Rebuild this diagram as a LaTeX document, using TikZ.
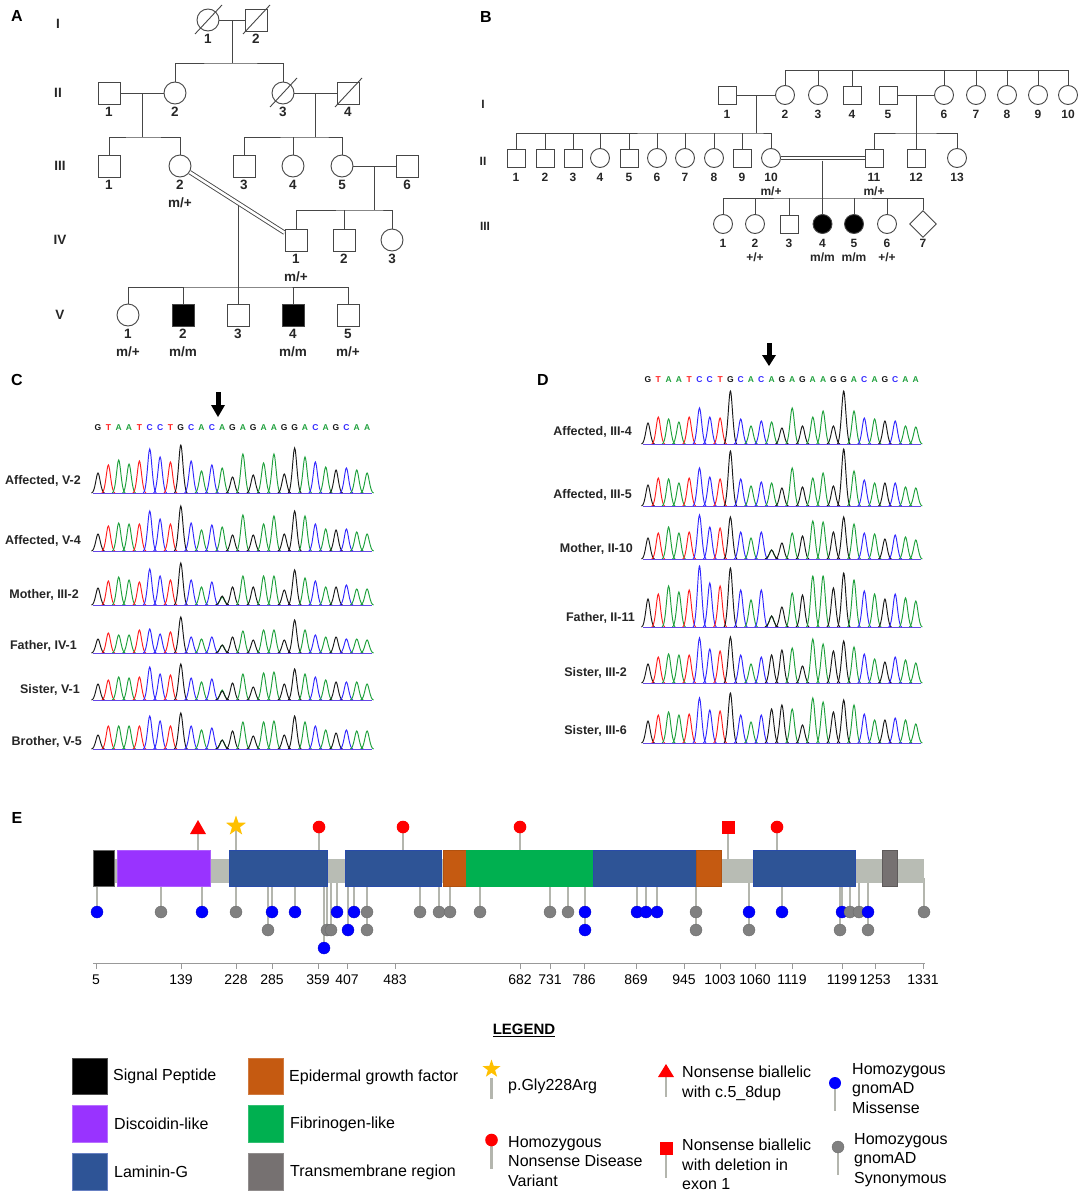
\documentclass[tikz,border=0pt]{standalone}
\usepackage{fontspec}
\setmainfont{Liberation Sans}
\usetikzlibrary{calc,shapes.geometric}
\definecolor{cK}{RGB}{25,25,25}
\definecolor{cR}{RGB}{255,30,30}
\definecolor{cG}{RGB}{30,160,60}
\definecolor{cB}{RGB}{50,40,255}
\definecolor{pedc}{RGB}{70,70,70}
\definecolor{discP}{RGB}{153,51,255}
\definecolor{lamG}{RGB}{46,84,150}
\definecolor{lamGb}{RGB}{40,75,170}
\definecolor{egfO}{RGB}{197,90,17}
\definecolor{fibG}{RGB}{0,176,80}
\definecolor{tmG}{RGB}{118,113,113}
\definecolor{bbG}{RGB}{184,188,180}
\definecolor{stickG}{RGB}{180,182,174}
\definecolor{synG}{RGB}{128,128,128}
\definecolor{misB}{RGB}{0,0,255}
\definecolor{nsR}{RGB}{255,0,0}
\definecolor{starY}{RGB}{255,192,0}
\definecolor{blineC}{RGB}{100,70,230}
\newcommand\seqc[1]{\ifcase#1\or cK\or cR\or cG\or cG\or cR\or cB\or cB\or cR\or cK\or cB\or cG\or cB\or cG\or cK\or cG\or cK\or cG\or cG\or cK\or cK\or cG\or cB\or cG\or cK\or cB\or cG\or cG\fi}
\newcommand\peak[5]{\draw[trace,color=#4] ({#1-#5},#2) .. controls ({#1-0.45*#5},#2) and ({#1-0.25*#5},{#2-#3}) .. ({#1},{#2-#3}) .. controls ({#1+0.25*#5},{#2-#3}) and ({#1+0.45*#5},#2) .. ({#1+#5},#2);}
\newcommand\chrom[4]{%
  \foreach \hh [count=\ii] in {#4} {%
    \pgfmathsetmacro\xc{#1+(\ii-1)*#2}%
    \edef\cc{\seqc{\ii}}%
    \peak{\xc}{#3}{\hh}{\cc}{6.5}%
  }}
\newcommand\bline[3]{\draw[baseln] ({#1-5},#3) -- ({#1+26*#2+5},#3);}
\newcommand\seqrow[4]{%
  \foreach \L [count=\ii] in {G,T,A,A,T,C,C,T,G,C,A,C,A,G,A,G,A,A,G,G,A,C,A,G,C,A,A} {%
    \pgfmathsetmacro\xc{#1+(\ii-1)*#2}%
    \edef\cc{\seqc{\ii}}%
    \node[seqt, text=\cc, name=#4\ii] at (\xc,#3) {\L};
  }}
\newcommand\pA[6]{\node[#1] (#2) at (#3,#4) {};
  \node[numA] (#2n) at (#3,{#4+19}) {#5};
  \node[numA] (#2g) at (#3,{#4+37}) {#6};}
\newcommand\pB[6]{\node[#1] (#2) at (#3,#4) {};
  \node[numB] (#2n) at (#3,{#4+19}) {#5};
  \node[numB] (#2g) at (#3,{#4+33}) {#6};}
\newcommand\dec[1]{\draw[pl] ($(#1)+(-13,14)$) -- ($(#1)+(14,-15)$);}
\tikzset{
  pl/.style={draw=pedc, line width=0.9pt},
  sqA/.style={pl, rectangle, minimum size=22pt, inner sep=0pt, fill=white},
  ciA/.style={pl, circle, minimum size=22pt, inner sep=0pt, fill=white},
  sqB/.style={pl, rectangle, minimum size=18pt, inner sep=0pt, fill=white},
  ciB/.style={pl, circle, minimum size=19pt, inner sep=0pt, fill=white},
  dmB/.style={pl, diamond, minimum width=27pt, minimum height=27pt, inner sep=0pt, fill=white},
  aff/.style={fill=black},
  numA/.style={font=\fontsize{13.5}{16}\bfseries\selectfont, inner sep=0pt, text=black!85},
  numB/.style={font=\fontsize{12}{14}\bfseries\selectfont, inner sep=0pt, text=black!85},
  panel/.style={font=\fontsize{16}{18}\bfseries\selectfont, inner sep=0pt},
  rowlbl/.style={font=\fontsize{12.5}{14}\bfseries\selectfont, inner sep=0pt, anchor=east, text=black!85},
  trace/.style={line width=0.95pt},
  baseln/.style={draw=blineC, line width=0.9pt},
  seqt/.style={font=\fontsize{8.5}{9}\bfseries\selectfont, inner sep=0pt},
  stick/.style={draw=stickG, line width=2.2pt},
  tickl/.style={font=\fontsize{14}{16}\selectfont, inner sep=0pt},
  legt/.style={font=\fontsize{16}{18}\selectfont, inner sep=0pt, anchor=west},
  legr/.style={font=\fontsize{16}{19.5}\selectfont, inner sep=0pt, anchor=north west, align=left},
}
\begin{document}
\begin{tikzpicture}[x=1pt,y=-1pt]
\useasboundingbox (0,0) rectangle (1084,1194);
% ================= Panel A =================
\node[panel] (pA) at (17,16) {A};
\node[numA] (gA1) at (58,24) {I};
\node[numA] (gA2) at (58,93) {II};
\node[numA] (gA3) at (60,166) {III};
\node[numA] (gA4) at (60,240) {IV};
\node[numA] (gA5) at (60,315) {V};
\pA{ciA}{A1x1}{208}{20}{1}{}
\pA{sqA}{A1x2}{256}{20}{2}{}
\dec{A1x1}\dec{A1x2}
\pA{sqA}{A2x1}{109}{93}{1}{}
\pA{ciA}{A2x2}{175}{93}{2}{}
\pA{ciA}{A2x3}{283}{93}{3}{}
\pA{sqA}{A2x4}{348}{93}{4}{}
\dec{A2x3}\dec{A2x4}
\pA{sqA}{A3x1}{109}{166}{1}{}
\pA{ciA}{A3x2}{180}{166}{2}{m/+}
\pA{sqA}{A3x3}{244}{166}{3}{}
\pA{ciA}{A3x4}{293}{166}{4}{}
\pA{ciA}{A3x5}{342}{166}{5}{}
\pA{sqA}{A3x6}{407}{166}{6}{}
\pA{sqA}{A4x1}{296}{240}{1}{m/+}
\pA{sqA}{A4x2}{344}{240}{2}{}
\pA{ciA}{A4x3}{392}{240}{3}{}
\pA{ciA}{A5x1}{128}{315}{1}{m/+}
\pA{sqA,aff}{A5x2}{183}{315}{2}{m/m}
\pA{sqA}{A5x3}{238}{315}{3}{}
\pA{sqA,aff}{A5x4}{293}{315}{4}{m/m}
\pA{sqA}{A5x5}{348}{315}{5}{m/+}
% connections A
\draw[pl] (A1x1) -- (A1x2);
\coordinate (mA1) at ($(A1x1)!0.5!(A1x2)$);
\coordinate (sA1) at ($(mA1)+(0,43)$);
\draw[pl] (mA1) -- (sA1);
\draw[pl] (A2x2.north) |- (sA1) -| (A2x3.north);
\draw[pl] (A2x1) -- (A2x2);
\coordinate (mA2) at ($(A2x1)!0.5!(A2x2)$);
\coordinate (sA2) at ($(mA2)+(0,44)$);
\draw[pl] (mA2) -- (sA2);
\draw[pl] (A3x1.north) |- (sA2) -| (A3x2.north);
\draw[pl] (A2x3) -- (A2x4);
\coordinate (mA3) at ($(A2x3)!0.5!(A2x4)$);
\coordinate (sA3) at ($(mA3)+(0,44)$);
\draw[pl] (mA3) -- (sA3);
\draw[pl] (A3x3.north) |- (sA3) -| (A3x5.north);
\draw[pl] (A3x4.north) -- (A3x4.north |- sA3);
\draw[pl] (A3x5) -- (A3x6);
\coordinate (mA4) at ($(A3x5)!0.5!(A3x6)$);
\coordinate (sA4) at ($(mA4)+(0,44)$);
\draw[pl] (mA4) -- (sA4);
\draw[pl] (A4x1.north) |- (sA4) -| (A4x3.north);
\draw[pl] (A4x2.north) -- (A4x2.north |- sA4);
\draw[pl, double=white, double distance=2.6pt] (A3x2) -- (A4x1);
\coordinate (mA5) at ($(A3x2)!0.5!(A4x1)$);
\coordinate (sA5) at (238,287);
\draw[pl] ($(mA5)+(0,2.5)$) -- (A5x3.north);
\draw[pl] (A5x1.north) |- (sA5) -| (A5x5.north);
\draw[pl] (A5x2.north) -- (A5x2.north |- sA5);
\draw[pl] (A5x4.north) -- (A5x4.north |- sA5);
% ================= Panel B =================
\node[panel] (pB) at (486,17) {B};
\node[numB] (gB1) at (483,104) {I};
\node[numB] (gB2) at (483,161) {II};
\node[numB] (gB3) at (485,226) {III};
\pB{sqB}{B1x1}{727}{95}{1}{}
\pB{ciB}{B1x2}{785}{95}{2}{}
\pB{ciB}{B1x3}{818}{95}{3}{}
\pB{sqB}{B1x4}{852}{95}{4}{}
\pB{sqB}{B1x5}{888}{95}{5}{}
\pB{ciB}{B1x6}{944}{95}{6}{}
\pB{ciB}{B1x7}{976}{95}{7}{}
\pB{ciB}{B1x8}{1007}{95}{8}{}
\pB{ciB}{B1x9}{1038}{95}{9}{}
\pB{ciB}{B1x10}{1068}{95}{10}{}
\pB{sqB}{B2x1}{516}{158}{1}{}
\pB{sqB}{B2x2}{545}{158}{2}{}
\pB{sqB}{B2x3}{573}{158}{3}{}
\pB{ciB}{B2x4}{600}{158}{4}{}
\pB{sqB}{B2x5}{629}{158}{5}{}
\pB{ciB}{B2x6}{657}{158}{6}{}
\pB{ciB}{B2x7}{685}{158}{7}{}
\pB{ciB}{B2x8}{714}{158}{8}{}
\pB{sqB}{B2x9}{742}{158}{9}{}
\pB{ciB}{B2x10}{771}{158}{10}{m/+}
\pB{sqB}{B2x11}{874}{158}{11}{m/+}
\pB{sqB}{B2x12}{916}{158}{12}{}
\pB{ciB}{B2x13}{957}{158}{13}{}
\pB{ciB}{B3x1}{723}{224}{1}{}
\pB{ciB}{B3x2}{755}{224}{2}{+/+}
\pB{sqB}{B3x3}{789}{224}{3}{}
\pB{ciB,aff}{B3x4}{822.5}{224}{4}{m/m}
\pB{ciB,aff}{B3x5}{854}{224}{5}{m/m}
\pB{ciB}{B3x6}{887}{224}{6}{+/+}
\pB{dmB}{B3x7}{923}{224}{7}{}
% connections B
\coordinate (tB) at (785,70);
\draw[pl] (B1x2.north) -- (B1x2.north |- tB) -| (B1x10.north);
\foreach \k in {3,4,6,7,8,9} \draw[pl] (B1x\k.north) -- (B1x\k.north |- tB);
\draw[pl] (B1x1) -- (B1x2);
\coordinate (mB1) at ($(B1x1)!0.5!(B1x2)$);
\coordinate (sB1) at ($(mB1)+(0,38)$);
\draw[pl] (mB1) -- (sB1);
\draw[pl] (B2x1.north) |- (sB1) -| (B2x10.north);
\foreach \k in {2,...,9} \draw[pl] (B2x\k.north) -- (B2x\k.north |- sB1);
\draw[pl] (B1x5) -- (B1x6);
\coordinate (mB2) at ($(B1x5)!0.5!(B1x6)$);
\coordinate (sB2) at ($(mB2)+(0,38)$);
\draw[pl] (mB2) -- (B2x12.north);
\draw[pl] (B2x11.north) |- (sB2) -| (B2x13.north);
\draw[pl, double=white, double distance=2.6pt] (B2x10) -- (B2x11);
\coordinate (mB3) at ($(B2x10)!0.5!(B2x11)$);
\coordinate (sB3) at ($(mB3)+(0,40)$);
\draw[pl] ($(mB3)+(0,2.5)$) -- (B3x4.north);
\draw[pl] (B3x1.north) |- (sB3) -| (B3x7.north);
\foreach \k in {2,3,5,6} \draw[pl] (B3x\k.north) -- (B3x\k.north |- sB3);
% ================= Panel C =================
\node[panel] (pC) at (17,380) {C};
\fill[black] (215.5,392) rectangle (220.5,406);
\fill[black] (211,405) -- (225,405) -- (218,417) -- cycle;
\seqrow{98}{10.35}{428}{sC}
\node[rowlbl] (lC1) at (81,481) {Affected, V-2};
\node[rowlbl] (lC2) at (81,541) {Affected, V-4};
\node[rowlbl] (lC3) at (79,595) {Mother, III-2};
\node[rowlbl] (lC4) at (77,646) {Father, IV-1};
\node[rowlbl] (lC5) at (80,690) {Sister, V-1};
\node[rowlbl] (lC6) at (82,742) {Brother, V-5};
\chrom{98}{10.35}{493}{20,28,33,29,32,44,36,31,48,32,22,28,25,16,39,18,30,39,19,45,36,31,26,23,25,23,20}
\bline{98}{10.35}{493}
\chrom{98}{10.35}{551}{17,25,28,27,27,40,32,27,45,28,21,26,24,16,36,16,27,35,17,40,35,27,22,21,22,19,17}
\bline{98}{10.35}{551}
\chrom{98}{10.35}{605}{17,24,28,25,23,36,29,25,42,25,18,23,8,18,29,18,29,29,15,35,27,24,18,18,20,16,16}
\peak{222.2}{605}{9}{cK}{6.5}
\bline{98}{10.35}{605}
\chrom{98}{10.35}{653}{14,20,18,18,23,24,19,21,36,16,14,16,8,16,22,13,23,23,13,33,23,18,16,16,14,14,13}
\peak{222.2}{653}{8}{cK}{6.5}
\bline{98}{10.35}{653}
\chrom{98}{10.35}{700}{16,20,23,22,23,33,26,25,36,22,18,21,10,17,26,13,27,28,16,31,26,23,20,18,18,18,16}
\peak{222.2}{700}{9}{cK}{6.5}
\bline{98}{10.35}{700}
\chrom{98}{10.35}{749}{14,23,23,23,23,33,28,23,36,23,19,21,9,18,27,13,27,28,14,33,27,23,19,16,19,18,18}
\peak{222.2}{749}{9}{cK}{6.5}
\bline{98}{10.35}{749}
% ================= Panel D =================
\node[panel] (pD) at (543,380) {D};
\fill[black] (766.5,343) rectangle (771.5,356);
\fill[black] (762,355) -- (776,355) -- (769,366) -- cycle;
\seqrow{648}{10.3}{380}{sD}
\node[rowlbl] (lD1) at (632,432) {Affected, III-4};
\node[rowlbl] (lD2) at (632,495) {Affected, III-5};
\node[rowlbl] (lD3) at (633,549) {Mother, II-10};
\node[rowlbl] (lD4) at (635,618) {Father, II-11};
\node[rowlbl] (lD5) at (627,673) {Sister, III-2};
\node[rowlbl] (lD6) at (627,731) {Sister, III-6};
\chrom{648}{10.3}{444}{21,27,25,22,27,36,27,26,53,25,18,23,22,16,36,18,27,33,18,53,33,26,25,23,23,18,17}
\bline{648}{10.3}{444}
\chrom{648}{10.3}{506}{21,28,27,23,28,38,29,27,55,27,20,24,23,18,38,19,28,33,20,57,35,26,23,23,23,19,18}
\bline{648}{10.3}{506}
\chrom{648}{10.3}{559}{21,26,32,26,27,44,32,31,42,27,21,27,9,16,26,23,38,37,27,42,35,26,25,20,24,22,19}
\peak{771.6}{559}{9}{cK}{6.5}
\bline{648}{10.3}{559}
\chrom{648}{10.3}{627}{28,33,41,35,37,61,44,41,59,37,27,37,11,20,34,32,51,51,39,54,47,36,33,28,33,29,26}
\peak{771.6}{627}{11}{cK}{6.5}
\bline{648}{10.3}{627}
\chrom{648}{10.3}{683}{19,26,29,28,28,45,34,32,46,28,19,26,0,33,35,17,44,39,32,42,36,29,24,21,26,23,20}
\peak{771.6}{683}{28}{cK}{6.5}
\bline{648}{10.3}{683}
\chrom{648}{10.3}{743}{22,28,31,28,29,45,33,32,50,28,21,28,0,38,34,18,45,41,31,43,38,29,23,23,25,23,19}
\peak{771.6}{743}{34}{cK}{6.5}
\bline{648}{10.3}{743}
% ================= Panel E =================
\node[panel] (pE) at (17,818) {E};
% top sticks
\foreach \x in {198,236,319,403,520,777} \draw[stick] (\x,856) -- (\x,830);
\draw[stick] (728,864) -- (728,830);
% bottom sticks
\foreach \x/\y in {97/912,161/912,202/912,236/912,272/912,295/912,337/912,354/912,367/930,420/912,439/912,450/912,480/912,550/912,568/912,585/930,637/912,646/912,657/912,696/930,749/930,782/912,842/912,850/912,859/912,868/930,924/912,268/930,327/930,331/930,348/930,840/930,324/948}
  \draw[stick] (\x,878) -- (\x,\y);
% backbone and domains
\fill[bbG] (93,859) rectangle (924,883);
\filldraw[fill=black, draw=black!60, line width=0.4pt] (93,850) rectangle (114,886);
\filldraw[fill=discP, draw=discP!80!white, line width=0.4pt] (117,850) rectangle (210,886);
\filldraw[fill=lamG, draw=lamGb, line width=0.6pt] (229,850) rectangle (327,886);
\filldraw[fill=lamG, draw=lamGb, line width=0.6pt] (345,850) rectangle (441,886);
\filldraw[fill=egfO, draw=egfO!90!black, line width=0.4pt] (443,850) rectangle (466,886);
\filldraw[fill=fibG, draw=fibG, line width=0.4pt] (466,850) rectangle (593,886);
\filldraw[fill=lamG, draw=lamGb, line width=0.6pt] (593,850) rectangle (696,886);
\filldraw[fill=egfO, draw=egfO!90!black, line width=0.4pt] (696,850) rectangle (721,886);
\filldraw[fill=lamG, draw=lamGb, line width=0.6pt] (753,850) rectangle (855,886);
\filldraw[fill=tmG, draw=tmG!80!black, line width=0.4pt] (882,850) rectangle (897,886);
% top markers
\fill[nsR] (190,834) -- (206,834) -- (198,820) -- cycle;
\node[star, star points=5, star point ratio=2.5, fill=starY, inner sep=0pt, minimum size=21pt] (starE) at (236,826) {};
\foreach \x in {319,403,520,777} \fill[nsR] (\x,827) circle (6.3pt);
\fill[nsR] (721.5,820.5) rectangle (734.5,833.5);
% bottom markers
\foreach \x/\y/\c in {324/948/misB,268/930/synG,327/930/synG,331/930/synG,348/930/misB,367/930/synG,585/930/misB,696/930/synG,749/930/synG,840/930/synG,868/930/synG,97/912/misB,161/912/synG,202/912/misB,236/912/synG,272/912/misB,295/912/misB,337/912/misB,354/912/misB,367/912/synG,420/912/synG,439/912/synG,450/912/synG,480/912/synG,550/912/synG,568/912/synG,585/912/misB,637/912/misB,646/912/misB,657/912/misB,696/912/synG,749/912/misB,782/912/misB,842/912/misB,850/912/synG,859/912/synG,868/912/misB,924/912/synG}
  \filldraw[fill=\c, draw=\c!80!black, line width=0.3pt] (\x,\y) circle (6pt);
% axis
\draw[draw=black!40, line width=1pt] (93,963) -- (925,963);
\foreach \x/\t in {96/5,181/139,236/228,272/285,318/359,347/407,395/483,520/682,550/731,584/786,636/869,684/945,720/1003,755/1060,792/1119,842/1199,875/1253,923/1331} {
  \draw[draw=black!40, line width=1pt] (\x,963) -- (\x,969);
  \node[tickl, name=tk\t] at (\x,980) {\t};
}
% ================= Legend =================
\node[font=\fontsize{15}{17}\bfseries\selectfont, inner sep=0pt] (legT) at (524,1030) {\underline{LEGEND}};
\filldraw[fill=black, draw=black!70] (72,1058) rectangle (107,1094);
\filldraw[fill=discP, draw=discP!70!white] (72,1105) rectangle (107,1142);
\filldraw[fill=lamG, draw=lamGb!70!white] (72,1153) rectangle (107,1190);
\filldraw[fill=egfO, draw=egfO!80!white] (248,1058) rectangle (283,1094);
\filldraw[fill=fibG, draw=fibG!80!white] (248,1105) rectangle (283,1142);
\filldraw[fill=tmG, draw=tmG!80!white] (248,1153) rectangle (283,1190);
\node[legt] (lg1) at (113,1076) {Signal Peptide};
\node[legt] (lg2) at (114,1124) {Discoidin-like};
\node[legt] (lg3) at (114,1172) {Laminin-G};
\node[legt] (lg4) at (289,1077) {Epidermal growth factor};
\node[legt] (lg5) at (290,1124) {Fibrinogen-like};
\node[legt] (lg6) at (290,1172) {Transmembrane region};
% legend markers
\draw[stick] (491.5,1078) -- (491.5,1099);
\node[star, star points=5, star point ratio=2.5, fill=starY, inner sep=0pt, minimum size=19pt] (starL) at (491.5,1069) {};
\node[legt] (lg7) at (508,1086) {p.Gly228Arg};
\draw[stick] (491.5,1140) -- (491.5,1169);
\fill[nsR] (491.5,1140) circle (6.3pt);
\node[legr] (lg8) at (508,1136) {Homozygous\\Nonsense Disease\\Variant};
\draw[stick] (666,1072) -- (666,1097);
\fill[nsR] (658,1077) -- (674,1077) -- (666,1064) -- cycle;
\node[legr] (lg9) at (682,1066) {Nonsense biallelic\\with c.5\_8dup};
\draw[stick] (666,1148) -- (666,1178);
\fill[nsR] (659.5,1142) rectangle (672.5,1155);
\node[legr] (lg10) at (682,1139) {Nonsense biallelic\\with deletion in\\exon 1};
\draw[stick] (835,1083) -- (835,1111);
\fill[misB] (835,1083) circle (6pt);
\node[legr] (lg11) at (852,1063) {Homozygous\\gnomAD\\Missense};
\draw[stick] (838,1147) -- (838,1175);
\filldraw[fill=synG, draw=synG!80!black, line width=0.3pt] (838,1147) circle (6pt);
\node[legr] (lg12) at (854,1133) {Homozygous\\gnomAD\\Synonymous};
\end{tikzpicture}
\end{document}
